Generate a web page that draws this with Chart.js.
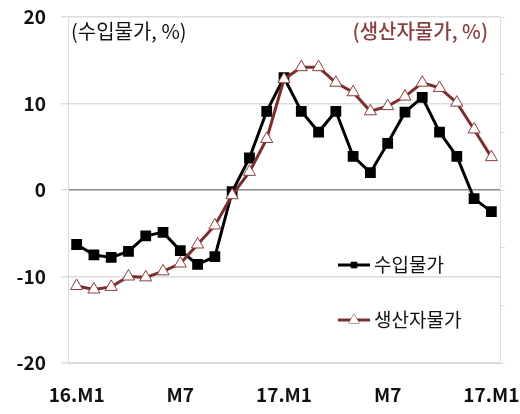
<!DOCTYPE html>
<html>
<head>
<meta charset="utf-8">
<script src="https://cdn.jsdelivr.net/npm/chart.js@4"></script>
<style>
html,body{margin:0;padding:0;background:#fff;}
#wrap{width:520px;height:414px;}
</style>
</head>
<body>
<div id="wrap"><canvas id="c" width="520" height="414"></canvas></div>
<script>
const categories = ["16.M1","16.M2","16.M3","16.M4","16.M5","16.M6","16.M7","16.M8","16.M9","16.M10","16.M11","16.M12",
  "17.M1","17.M2","17.M3","17.M4","17.M5","17.M6","17.M7","17.M8","17.M9","17.M10","17.M11","17.M12","18.M1"];
const tickLabels = ["16.M1","M7","17.M1","M7","17.M1"];
const importPrices = [-6.3,-7.5,-7.8,-7.1,-5.3,-4.9,-7.0,-8.6,-7.7,-0.2,3.7,9.1,13.0,9.1,6.7,9.1,3.9,2.0,5.4,9.0,10.7,6.7,3.9,-1.0,-2.5];
const producerPrices = [-11.1,-11.5,-11.2,-10.0,-10.1,-9.4,-8.5,-6.3,-4.1,-0.6,2.1,5.9,12.8,14.2,14.2,12.4,11.3,9.1,9.7,10.8,12.4,11.8,10.1,7.0,3.8];
const seriesNames = ["수입물가","생산자물가"];
const leftTitle = "(수입물가, %)";
const rightTitle = "(생산자물가, %)";

const KFONT = "'Noto Sans CJK KR', 'Noto Sans', sans-serif";
const brown = '#7a2e2e';

const overlay = {
  id: 'overlay',
  afterDraw(chart) {
    const ctx = chart.ctx;
    const ca = chart.chartArea;
    ctx.save();
    ctx.textBaseline = 'middle';
    ctx.font = "20px " + KFONT;
    ctx.fillStyle = '#111';
    ctx.textAlign = 'left';
    ctx.fillText(leftTitle, ca.left + 3, 31);
    ctx.font = "500 20px " + KFONT;
    ctx.fillStyle = '#8b4040';
    ctx.textAlign = 'right';
    ctx.fillText(rightTitle, ca.right - 12, 31);
    // legend
    const items = [
      {y: 265, color: '#000', style: 'rect', r: 4, fill: '#000', name: seriesNames[0]},
      {y: 320, color: brown, style: 'triangle', r: 6, fill: '#fff', name: seriesNames[1]}
    ];
    items.forEach(it => {
      ctx.strokeStyle = it.color;
      ctx.lineWidth = 3;
      ctx.beginPath();
      ctx.moveTo(338, it.y);
      ctx.lineTo(370, it.y);
      ctx.stroke();
      ctx.fillStyle = it.fill;
      ctx.lineWidth = 1;
      Chart.helpers.drawPoint(ctx, {pointStyle: it.style, radius: it.r, borderWidth: 1, rotation: 0}, 354, it.y);
      ctx.fill();
      ctx.fillStyle = '#111';
      ctx.textAlign = 'left';
      ctx.font = "19px " + KFONT;
      ctx.fillText(it.name, 374, it.y);
    });
    ctx.restore();
  }
};

const chart = new Chart(document.getElementById('c'), {
  type: 'line',
  data: {
    labels: categories,
    datasets: [
      {
        label: seriesNames[1],
        data: producerPrices,
        borderColor: brown,
        borderWidth: 3,
        pointStyle: 'triangle',
        pointRadius: 7,
        pointBackgroundColor: '#fff',
        pointBorderColor: '#8a3c3c',
        pointBorderWidth: 1,
        tension: 0,
        yAxisID: 'y'
      },
      {
        label: seriesNames[0],
        data: importPrices,
        borderColor: '#000',
        borderWidth: 3,
        pointStyle: 'rect',
        pointRadius: 5.5,
        pointBackgroundColor: '#000',
        pointBorderColor: '#000',
        tension: 0,
        yAxisID: 'y'
      }
    ]
  },
  options: {
    responsive: false,
    animation: false,
    devicePixelRatio: 1,
    layout: {padding: {left: 0, right: 0, top: 17, bottom: 0}},
    plugins: {legend: {display: false}, tooltip: {enabled: false}},
    scales: {
      x: {
        offset: true,
        grid: {display: false, drawTicks: false},
        border: {display: true, color: '#d9d9d9'},
        ticks: {
          autoSkip: false,
          maxRotation: 0,
          padding: 20,
          color: '#111',
          font: {family: KFONT, size: 19, weight: 'bold'},
          callback: (v, i) => (i % 6 === 0 ? tickLabels[i / 6] : '')
        },
        afterFit(s) { s.height = 51; s.paddingLeft = 0; s.paddingRight = 0; }
      },
      y: {
        position: 'left',
        min: -20, max: 20,
        grid: {
          color: ctx => (ctx.tick && ctx.tick.value === 0 ? '#8c8c8c' : '#dcdcdc'),
          lineWidth: 1.5,
          tickLength: 7,
          tickColor: '#dcdcdc'
        },
        border: {display: true, color: '#dcdcdc'},
        ticks: {
          stepSize: 10,
          padding: 15,
          color: '#111',
          font: {family: KFONT, size: 19, weight: 'bold'}
        },
        afterFit(s) { s.width = 68; s.paddingTop = 0; s.paddingBottom = 0; }
      },
      y2: {
        position: 'right',
        min: -20, max: 20,
        grid: {drawOnChartArea: false, tickLength: 5, color: '#dcdcdc'},
        border: {display: true, color: '#dcdcdc'},
        ticks: {stepSize: 40 / 6, display: true, color: 'rgba(0,0,0,0)', font: {size: 1}},
        afterFit(s) { s.width = 20; s.paddingTop = 0; s.paddingBottom = 0; }
      }
    }
  },
  plugins: [overlay]
});
</script>
</body>
</html>
